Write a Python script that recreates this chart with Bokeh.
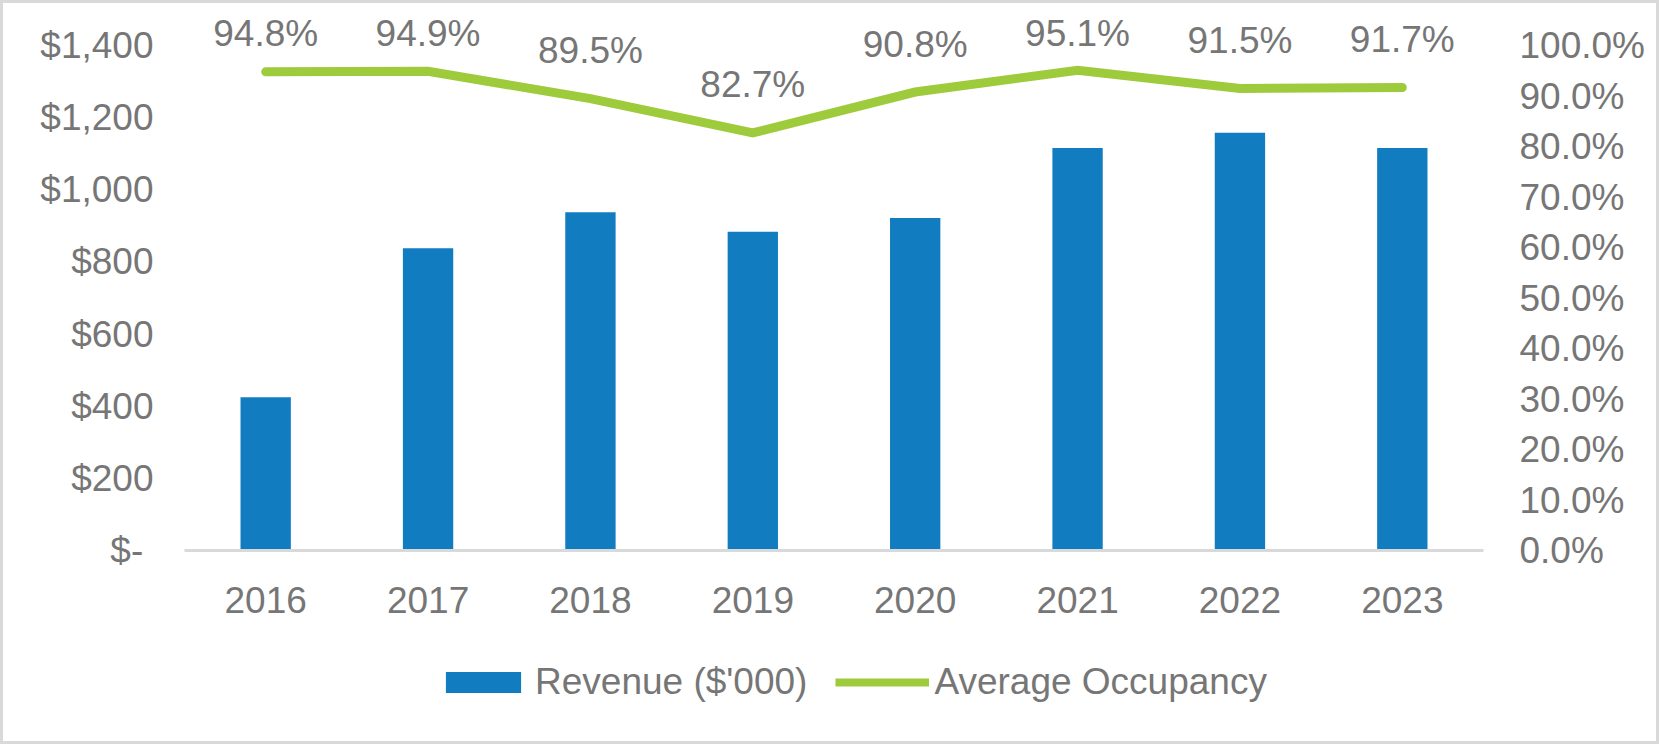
from bokeh.plotting import figure
from bokeh.layouts import column
from bokeh.models import Range1d, LinearAxis, FixedTicker, ColumnDataSource, Legend, LegendItem
from bokeh.core.properties import value
from bokeh.embed import file_html
from bokeh.resources import INLINE

years = ["2016", "2017", "2018", "2019", "2020", "2021", "2022", "2023"]
revenue = [425, 838, 938, 884, 922, 1116, 1158, 1116]
occupancy = [94.8, 94.9, 89.5, 82.7, 90.8, 95.1, 91.5, 91.7]
rev_ticks = [0, 200, 400, 600, 800, 1000, 1200, 1400]
occ_ticks = [0, 10, 20, 30, 40, 50, 60, 70, 80, 90, 100]

FONT = "Liberation Sans"
GRAY = "#767676"
BLUE = "#127CC1"
GREEN = "#9DCB3B"

Y_TOP = 1500
OCC_TOP = Y_TOP / rev_ticks[-1] * occ_ticks[-1]

p = figure(x_range=years, y_range=Range1d(0, Y_TOP), width=1653, height=647,
           output_backend="svg", toolbar_location=None, margin=(3, 3, 0, 3),
           min_border_left=181, min_border_right=173, min_border_top=6, min_border_bottom=100,
           styles={"background-color": "white"})
p.outline_line_color = None
p.grid.grid_line_color = None
p.background_fill_color = "white"
p.border_fill_color = "white"
p.extra_y_ranges = {"occ": Range1d(0, OCC_TOP)}

src = ColumnDataSource(dict(
    x=years, rev=revenue, occ=occupancy,
    lab=[f"{v:.1f}%" for v in occupancy],
    laby=[min(v + 9.5, 102.4) for v in occupancy],
))

bars = p.vbar(x="x", top="rev", width=0.31, source=src, fill_color=BLUE, line_color=None)
line = p.line(x="x", y="occ", source=src, y_range_name="occ", line_color=GREEN,
              line_width=9, line_cap="round", line_join="miter")
p.text(x="x", y="laby", text="lab", source=src, y_range_name="occ",
       text_align="center", text_baseline="middle", text_color=GRAY,
       text_font=value(FONT), text_font_size="37px")

# left axis
ya = p.yaxis[0]
ya.ticker = FixedTicker(ticks=rev_ticks)
ya.major_label_overrides = {t: ("$-\u00a0" if t == 0 else "${:,}".format(t)) for t in rev_ticks}
ya.axis_line_color = None
ya.major_tick_line_color = None
ya.minor_tick_line_color = None
ya.major_label_standoff = 25
ya.major_label_text_font = FONT
ya.major_label_text_font_size = "37px"
ya.major_label_text_color = GRAY

# right axis
ra = LinearAxis(y_range_name="occ", ticker=FixedTicker(ticks=occ_ticks))
ra.major_label_overrides = {t: f"{t:.1f}%" for t in occ_ticks}
ra.axis_line_color = None
ra.major_tick_line_color = None
ra.minor_tick_line_color = None
ra.major_label_standoff = 30
ra.major_label_text_font = FONT
ra.major_label_text_font_size = "37px"
ra.major_label_text_color = GRAY
p.add_layout(ra, "right")

xa = p.xaxis[0]
xa.axis_line_color = "#d9d9d9"
xa.axis_line_width = 3
xa.major_tick_line_color = None
xa.minor_tick_line_color = None
xa.major_label_standoff = 30
xa.major_label_text_font = FONT
xa.major_label_text_font_size = "37px"
xa.major_label_text_color = GRAY

# legend panel (separate figure so the legend is not clipped by the chart frame);
# its sample renderers are hidden, only their legend glyphs are drawn
lg = figure(x_range=years, width=1653, height=91,
            output_backend="svg", toolbar_location=None, margin=(0, 3, 3, 3),
            x_axis_location=None, y_axis_location=None, min_border=0,
            styles={"background-color": "white"})
lg.outline_line_color = None
lg.grid.visible = False
lg.background_fill_color = "white"
lg.border_fill_color = "white"
lb = lg.vbar(x="x", top="rev", width=0.31, source=src, fill_color=BLUE, line_color=None,
             visible=False)
ll = lg.line(x="x", y="occ", source=src, line_color=GREEN, line_width=8, line_cap="butt",
             visible=False)
legend = Legend(items=[LegendItem(label="Revenue ($'000)", renderers=[lb]),
                       LegendItem(label="Average Occupancy", renderers=[ll])],
                orientation="horizontal", location=(252, 38),
                glyph_width=94, glyph_height=26, label_standoff=5, spacing=28,
                label_text_font=FONT, label_text_font_size="37px", label_text_color=GRAY,
                border_line_color=None, background_fill_alpha=0, padding=0, margin=0)
lg.add_layout(legend)

layout = column(p, lg, spacing=0, styles={"background-color": "#d9d9d9"})

open("out.html", "w").write(file_html(layout, INLINE))
